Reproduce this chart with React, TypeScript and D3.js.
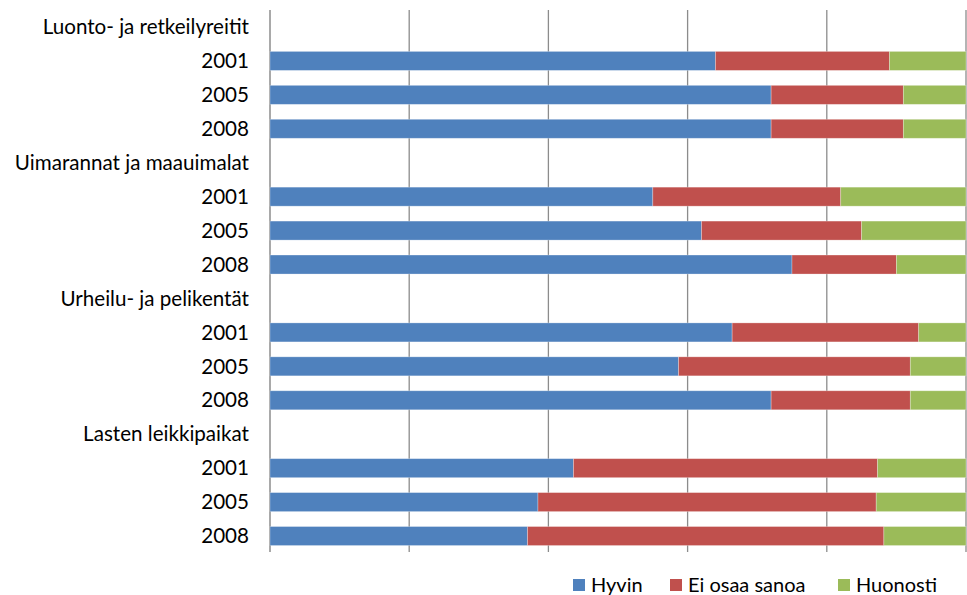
import React from "react";
import * as d3 from "d3";

const groups = ["Luonto- ja retkeilyreitit", "Uimarannat ja maauimalat", "Urheilu- ja pelikentät", "Lasten leikkipaikat"];
const years = ["2001", "2005", "2008"];
const seriesNames = ["Hyvin", "Ei osaa sanoa", "Huonosti"];
const colors = ["#4F81BD", "#C0504D", "#9BBB59"];
// per group, per year: [Hyvin, Ei osaa sanoa, Huonosti] in %
const hyvin = [
  [64, 72, 72],
  [55, 62, 75],
  [66.4, 58.7, 72],
  [43.6, 38.5, 37],
];
const eiOsaa = [
  [25, 19, 19],
  [27, 23, 15],
  [26.8, 33.3, 20],
  [43.7, 48.6, 51.2],
];
const huonosti = [
  [11, 9, 9],
  [18, 15, 10],
  [6.8, 8, 8],
  [12.7, 12.9, 11.8],
];
const xTicks = [0, 20, 40, 60, 80, 100];

type Row = { key: string; label: string; header: boolean; vals?: number[] };

export default function App() {
  const W = 967, H = 595;
  const left = 270, right = 966, top = 10, bottom = 553;
  const rows: Row[] = [];
  groups.forEach((g, gi) => {
    rows.push({ key: `h${gi}`, label: g, header: true });
    years.forEach((y, yi) => {
      rows.push({ key: `r${gi}-${yi}`, label: y, header: false, vals: [hyvin[gi][yi], eiOsaa[gi][yi], huonosti[gi][yi]] });
    });
  });
  const x = d3.scaleLinear().domain([0, 100]).range([left, right]);
  const y = d3.scaleBand<string>().domain(rows.map((r) => r.key)).range([top, bottom]).paddingInner(0.44).paddingOuter(0.22);
  const font = "Lato, 'Open Sans', sans-serif";
  const fs = 20.6;
  const stack = d3.stack<number[]>().keys(["0", "1", "2"]).value((d, k) => d[+k]);
  const dataRows = rows.filter((r) => !r.header);
  const stacked = stack(dataRows.map((r) => r.vals!));

  const legendItems = [
    { name: seriesNames[0], sx: 573, tx: 591 },
    { name: seriesNames[1], sx: 670, tx: 688 },
    { name: seriesNames[2], sx: 838, tx: 856 },
  ];

  return (
    <svg width={W} height={H} style={{ position: "absolute", left: 0, top: 0, background: "#fff" }} fontFamily={font}>
      {xTicks.map((t) => (
        <line key={t} x1={x(t)} x2={x(t)} y1={top} y2={bottom - 1} stroke="#8c8c8c" strokeWidth={t === 0 ? 1.5 : 1.3} />
      ))}
      {stacked.map((layer, li) =>
        layer.map((seg, ri) => {
          const r = dataRows[ri];
          return (
            <rect
              key={`${li}-${r.key}`}
              x={x(seg[0])}
              width={x(seg[1]) - x(seg[0])}
              y={y(r.key)!}
              height={y.bandwidth()}
              fill={colors[li]}
              stroke="#ffffff"
              strokeOpacity={0.35}
              strokeWidth={0.8}
            />
          );
        })
      )}
      {rows.map((r) => (
        <text key={`t${r.key}`} x={249} y={y(r.key)! + y.bandwidth() / 2} dy="0.35em" textAnchor="end" fontSize={fs} fill="#000">
          {r.label}
        </text>
      ))}
      {legendItems.map((l, i) => (
        <g key={l.name}>
          <rect x={l.sx} y={579} width={12} height={12} fill={colors[i]} />
          <text x={l.tx} y={585} dy="0.35em" fontSize={20} fill="#000">{l.name}</text>
        </g>
      ))}
    </svg>
  );
}
